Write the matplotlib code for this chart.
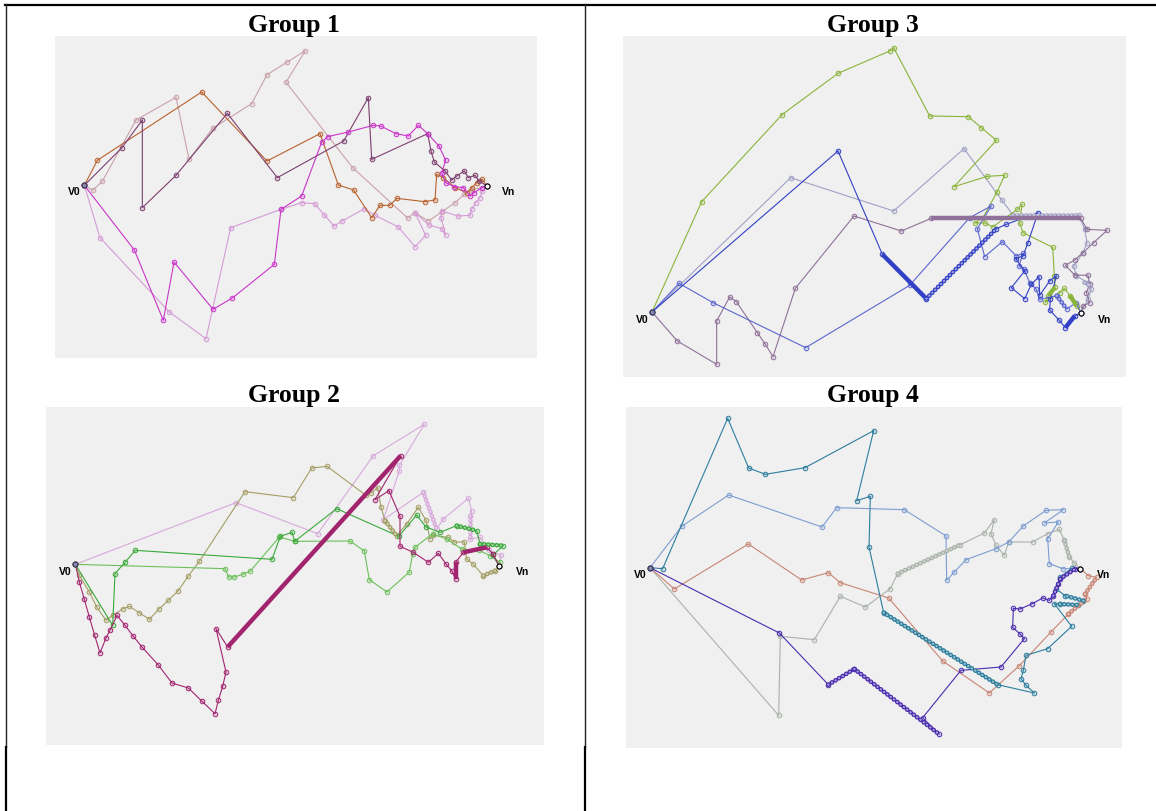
import matplotlib
matplotlib.use('Agg')
import matplotlib.pyplot as plt
from matplotlib.lines import Line2D
from matplotlib.colors import to_rgba

plt.rcParams['lines.scale_dashes'] = False

# ---- Group 1 paths (panel units, y down)
g1_plum = [(88,448),(200,336),(262,252),(262,515),(363,418),(517,232),(667,425),(866,315),(940,185),
           (950,370),(1118,293),(1128,345),(1138,378),(1170,405),(1190,432),(1205,420),(1228,405),
           (1240,425),(1260,418),(1272,435),(1296,450)]
g1_sienna = [(88,448),(127,373),(440,168),(636,375),(795,293),(850,447),(896,462),(950,545),(975,508),
             (1004,508),(1026,487),(1109,497),(1140,492),(1145,415),(1165,425),(1200,455),(1235,470),
             (1250,455),(1265,440),(1282,430),(1296,450)]
g1_mauve = [(88,448),(113,463),(142,436),(243,252),(363,184),(402,370),(473,277),(590,203),(636,116),
            (697,78),(751,44),(693,139),(893,395),(1058,546),(1080,530),(1120,555),(1160,528),
            (1200,500),(1228,475),(1250,462),(1296,450)]
g1_magenta = [(88,448),(238,642),(325,853),(357,678),(474,820),(532,786),(658,685),(678,520),(740,480),
              (800,318),(818,302),(880,288),(955,268),(977,270),(1023,293),(1060,300),(1090,268),
              (1118,293),(1152,330),(1172,373),(1160,410),(1172,440),(1198,452),(1225,455),(1245,480),
              (1258,470),(1280,455),(1296,450)]
g1_orchid = [(88,448),(135,605),(343,828),(453,908),(527,575),(678,520),(740,500),(779,503),(808,537),
             (837,570),(862,555),(928,518),(960,538),(1030,573),(1080,632),(1112,598),(1080,530),
             (1122,567),(1160,578),(1172,598),(1158,545),(1160,525),(1208,540),(1245,538),(1250,520),
             (1262,500),(1275,485),(1282,465),(1296,450)]

# ---- Group 3 paths
g3_green = [(87,828),(236,497),(477,236),(645,112),(800,45),(812,35),(920,240),(1036,242),(1075,275),
            (1120,313),(993,452),(1093,421),(1145,418),(1122,468),(1080,545),(1056,561),(1086,561),
            (1109,573),(1183,520),(1197,505),(1190,560),(1200,590),(1289,634),(1294,719),(1296,754),
            (1276,779),(1266,799),(1310,770),(1324,757),(1341,779),(1361,809),(1374,830)]
g3_green_thick = [((1296,754),(1276,779)),((1341,779),(1361,809))]
g3_blue = [(87,828),(645,345),(778,655),(910,788),(1120,578),(1150,565),(1245,530),(1215,620),
           (1200,660),(1178,668),(1205,705),(1165,755),(1205,788),(1225,745),(1248,722),(1250,778),
           (1280,735),(1300,720),(1282,790),(1280,822),(1308,852),(1327,875),(1355,840),(1374,830)]
g3_blue_thick = [((778,655),(910,788)),((1327,875),(1355,840))]
g3_blue_beads = [((910,788),(1120,578))]
g3_slate = [(87,828),(168,742),(270,800),(548,935),(860,748),(1040,545),(1105,510),(1063,578),
            (1085,662),(1138,617),(1180,660),(1200,652),(1188,690),(1203,700),(1220,740),(1240,760),
            (1250,790),(1301,779),(1331,819),(1360,800),(1374,830)]
g3_slate_beads = [((1301,779),(1331,819))]
g3_lavender = [(87,828),(503,425),(812,525),(1023,338),(1137,493),(1170,537),(1368,537),(1385,580),
               (1392,620),(1380,650),(1352,690),(1360,720),(1395,740),(1405,760),(1395,790),(1374,830)]
g3_lavender_beads = [((1170,537),(1368,537)),((1385,740),(1405,752))]
g3_purple = [(87,828),(163,915),(281,985),(281,855),(320,783),(340,797),(403,890),(427,925),(450,962),
             (517,757),(693,540),(835,585),(925,547),(1373,547),(1392,580),(1452,583),(1412,620),
             (1380,650),(1355,672),(1327,688),(1355,717),(1395,718),(1400,745),(1390,770),(1400,800),
             (1380,810),(1374,830)]
g3_purple_thick = [((925,547),(1373,547))]

# ---- Group 2 paths
g2_thistle = [(88,472),(570,287),(815,380),(982,146),(1135,52),(1060,175),(1060,191),(1012,338),
              (1132,256),(1172,366),(1192,336),(1267,274),(1277,311),(1272,326),(1272,396),(1302,391),
              (1330,430),(1365,445),(1360,478)]
g2_thistle_beads = [((1132,256),(1172,366)),((1272,326),(1272,396))]
g2_khaki = [(88,472),(100,505),(130,555),(152,600),(180,640),(200,625),(232,605),(250,598),(280,617),
            (310,637),(338,607),(367,580),(396,552),(427,507),(460,463),(597,254),(742,272),(797,183),
            (843,178),(960,265),(975,258),(995,242),(1005,300),(1017,341),(1052,386),(1082,351),
            (1117,301),(1140,340),(1152,396),(1160,385),(1207,391),(1225,405),(1255,405),(1262,456),
            (1280,470),(1312,506),(1347,491),(1360,478)]
g2_khaki_beads = [((1017,341),(1052,386)),((1312,506),(1347,491))]
g2_green1 = [(88,472),(200,655),(207,500),(237,466),(268,430),(678,457),(703,388),(738,376),(746,403),
             (872,305),(1058,388),(1112,324),(1140,360),(1182,376),(1232,356),(1292,371),(1302,411),
             (1372,416),(1340,445),(1360,478)]
g2_green1_beads = [((1232,356),(1292,371)),((1302,411),(1372,416))]
g2_green2 = [(88,472),(537,485),(548,510),(565,510),(590,502),(613,492),(700,390),(746,403),(912,402),
             (955,432),(970,518),(1023,555),(1090,495),(1100,440),(1107,421),(1160,380),(1202,396),
             (1247,426),(1300,430),(1332,446),(1362,466),(1360,478)]
g2_magenta = [(88,472),(100,525),(115,577),(130,630),(146,685),(162,738),(180,693),(193,668),(213,625),
              (237,655),(262,688),(288,720),(336,773),(378,828),(427,843),(467,882),(507,920),(517,880),
              (530,838),(540,795),(510,665),(545,720),(1064,146),(987,278),(1029,251),(1062,328),
              (1062,418),(1102,436),(1147,466),(1177,439),(1200,471),(1217,491),(1229,516),(1229,466),
              (1252,436),(1322,421),(1340,440),(1360,478)]
g2_magenta_thick = [((545,720),(1064,146)),((1229,516),(1229,466)),((1252,436),(1322,421))]

# ---- Group 4 paths
g4_teal = [(72,482),(110,485),(305,34),(368,183),(418,202),(537,182),(743,71),(692,281),(733,268),
           (729,420),(773,617),(1115,833),(1225,858),(1200,835),(1185,815),(1192,790),(1200,745),
           (1265,725),(1337,658),(1285,590),(1302,591),(1357,594),(1372,581),(1317,566),(1290,545),
           (1302,511),(1337,484),(1362,485)]
g4_teal_beads = [((773,617),(1115,833)),((1302,591),(1357,594)),((1372,581),(1317,566))]
g4_steel = [(72,482),(167,358),(308,264),(588,360),(632,302),(835,308),(960,387),(962,520),(985,495),
            (1020,458),(1110,425),(1148,405),(1192,357),(1260,310),(1312,308),(1255,348),(1297,345),
            (1265,395),(1270,470),(1310,485),(1362,485)]
g4_salmon = [(72,482),(145,546),(367,411),(527,519),(607,497),(643,527),(788,573),(950,762),(1090,858),
             (1180,776),(1275,675),(1327,621),(1382,576),(1377,561),(1412,511),(1387,506),(1362,485)]
g4_salmon_beads = [((1327,621),(1382,576)),((1377,561),(1412,511))]
g4_gray = [(72,482),(458,925),(463,688),(565,698),(643,568),(718,600),(793,545),(815,500),(1003,413),
           (1075,378),(1105,338),(1095,380),(1110,415),(1135,445),(1148,405),(1220,405),(1265,380),
           (1300,367),(1315,400),(1330,450),(1345,468),(1362,485)]
g4_gray_beads = [((815,500),(1003,413)),((1315,400),(1330,450))]
g4_indigo = [(72,482),(460,678),(607,833),(685,786),(940,982),(890,932),(1005,790),(1125,780),
             (1195,695),(1182,681),(1160,661),(1162,604),(1182,606),(1217,591),(1250,573),(1270,580),
             (1282,566),(1297,531),(1302,516),(1347,486),(1362,485)]
g4_indigo_beads = [((607,833),(685,786)),((685,786),(940,982)),((1282,566),(1297,531)),((1302,516),(1347,486))]

titles = ['Group 1', 'Group 3', 'Group 2', 'Group 4']

panels = [
    dict(rect=[55, 37, 482, 322], title=titles[0], tpos=(294, 32), v0=(59, 464), vn=(1362, 464),
         paths=[(g1_mauve, '#c9a2ab', [], []), (g1_orchid, '#d59bd5', [], []),
                (g1_sienna, '#b9622f', [], []), (g1_plum, '#7d3f6f', [], []),
                (g1_magenta, '#c935c9', [], [])]),
    dict(rect=[623, 37, 503, 341], title=titles[1], tpos=(873, 32), v0=(57, 848), vn=(1444, 848),
         paths=[(g3_lavender, '#a0a0c6', g3_lavender_beads, []), (g3_purple, '#8f7199', [], g3_purple_thick),
                (g3_green, '#8ab43a', [], g3_green_thick), (g3_slate, '#5c66cf', g3_slate_beads, []),
                (g3_blue, '#3240c6', g3_blue_beads, g3_blue_thick)]),
    dict(rect=[46, 408, 498, 338], title=titles[2], tpos=(294, 402), v0=(59, 493), vn=(1430, 493),
         paths=[(g2_thistle, '#d7aadb', g2_thistle_beads, []), (g2_khaki, '#a59e66', g2_khaki_beads, []),
                (g2_green2, '#6cc05a', [], []), (g2_green1, '#3aa93a', g2_green1_beads, []),
                (g2_magenta, '#a2246f', [], g2_magenta_thick)]),
    dict(rect=[626, 408, 496, 341], title=titles[3], tpos=(873, 402), v0=(42, 500), vn=(1433, 500),
         paths=[(g4_gray, '#aab2aa', g4_gray_beads, []), (g4_salmon, '#c88574', g4_salmon_beads, []),
                (g4_steel, '#7d9dd2', [], []), (g4_teal, '#2c7d9d', g4_teal_beads, []),
                (g4_indigo, '#4a2cb0', g4_indigo_beads, [])]),
]

W, H = 1156, 812
fig = plt.figure(figsize=(W / 100, H / 100), dpi=100)

# --- table borders
def vline(x, y0, y1, lw, c):
    fig.add_artist(Line2D([x / W, x / W], [1 - y0 / H, 1 - y1 / H], lw=lw, color=c))

fig.add_artist(Line2D([5 / W, 1], [1 - 5.5 / H, 1 - 5.5 / H], lw=1.6, color='black'))
for xx in (5.5, 585):
    vline(xx, 5, 748, 1.0, '#222222')
    vline(xx, 748, 812, 1.6, 'black')

for p in panels:
    x0, y0, w, h = p['rect']
    ax = fig.add_axes([x0 / W, 1 - (y0 + h) / H, w / W, h / H])
    ax.set_facecolor('#f0f0f0')
    ax.set_xlim(0, w * 3)
    ax.set_ylim(h * 3, 0)
    ax.set_xticks([])
    ax.set_yticks([])
    for s in ax.spines.values():
        s.set_visible(False)

    for pts, c, beads, thick in p['paths']:
        xs = [q[0] for q in pts]
        ys = [q[1] for q in pts]
        ax.plot(xs, ys, '-', color=c, lw=0.8, marker='o', ms=3.3, mew=0.7,
                mec=c, mfc=to_rgba(c, 0.18), zorder=2)
        for a, b in thick:
            ax.plot([a[0], b[0]], [a[1], b[1]], '-', color=c, lw=3.2,
                    solid_capstyle='butt', zorder=3)
        for a, b in beads:
            ax.plot([a[0], b[0]], [a[1], b[1]], color=c, lw=3.4,
                    linestyle=(0, (0.1, 2.9)), dash_capstyle='round', zorder=3)
            ax.plot([a[0], b[0]], [a[1], b[1]], color=to_rgba(c, 1.0), lw=1.8,
                    linestyle=(0, (0.1, 2.9)), dash_capstyle='round', zorder=3, alpha=0.35)
            ax.plot([a[0], b[0]], [a[1], b[1]], color='#f0f0f0', lw=1.6,
                    linestyle=(0, (0.1, 2.9)), dash_capstyle='round', zorder=3, alpha=0.6)
        # start / end markers
    first = p['paths'][0][0]
    ax.plot([first[-1][0]], [first[-1][1]], 'o', ms=3.6, mew=0.8, mec='black', mfc='white', zorder=5)
    ax.plot([first[0][0]], [first[0][1]], 'o', ms=3.6, mew=0.8, mec='#333355', mfc='#8888aa', zorder=5)

    ax.text(p['v0'][0], p['v0'][1], 'V0', fontsize=7.5, fontweight='bold',
            family='Liberation Sans', ha='center', va='center')
    ax.text(p['vn'][0], p['vn'][1], 'Vn', fontsize=7.5, fontweight='bold',
            family='Liberation Sans', ha='center', va='center')

    fig.text(p['tpos'][0] / W, 1 - p['tpos'][1] / H, p['title'], fontsize=18.5,
             fontweight='bold', family='Liberation Serif', ha='center', va='baseline')

fig.savefig('out.png', dpi=100)
